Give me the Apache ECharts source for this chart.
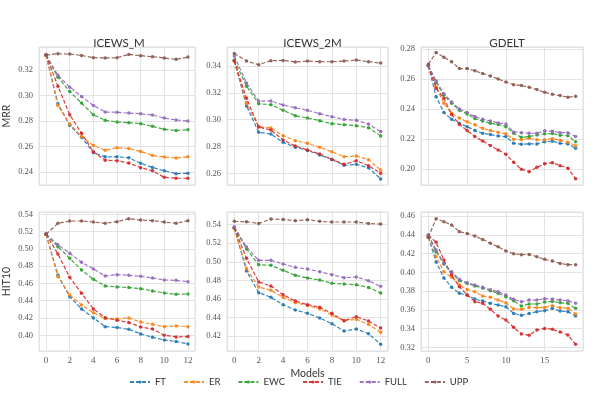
<!DOCTYPE html>
<html>
<head>
<meta charset="utf-8">
<script src="https://cdn.jsdelivr.net/npm/echarts@6/dist/echarts.min.js"></script>
<style>html,body{margin:0;padding:0;background:#fff}#c{width:598px;height:394px}</style>
</head>
<body>
<div id="c"></div>
<script>
// ---------- data ----------
const methods = ['FT', 'ER', 'EWC', 'TIE', 'FULL', 'UPP'];
const datasets = ['ICEWS_M', 'ICEWS_2M', 'GDELT'];
const metrics = ['MRR', 'HIT10'];
const stepsIcews = [0, 1, 2, 3, 4, 5, 6, 7, 8, 9, 10, 11, 12];
const stepsGdelt = [0, 1, 2, 3, 4, 5, 6, 7, 8, 9, 10, 11, 12, 13, 14, 15, 16, 17, 18, 19];

// MRR - ICEWS_M
const mrrIcewsM_FT   = [0.3317, 0.2935, 0.2766, 0.2673, 0.2553, 0.2519, 0.2519, 0.2512, 0.2468, 0.2436, 0.2410, 0.2387, 0.2390];
const mrrIcewsM_ER   = [0.3317, 0.2922, 0.2777, 0.2678, 0.2608, 0.2571, 0.2590, 0.2584, 0.2561, 0.2530, 0.2517, 0.2509, 0.2519];
const mrrIcewsM_EWC  = [0.3317, 0.3143, 0.3031, 0.2940, 0.2849, 0.2805, 0.2792, 0.2787, 0.2779, 0.2758, 0.2735, 0.2725, 0.2732];
const mrrIcewsM_TIE  = [0.3317, 0.3073, 0.2849, 0.2704, 0.2558, 0.2493, 0.2488, 0.2470, 0.2434, 0.2410, 0.2358, 0.2351, 0.2351];
const mrrIcewsM_FULL = [0.3317, 0.3158, 0.3065, 0.2992, 0.2922, 0.2870, 0.2868, 0.2862, 0.2857, 0.2847, 0.2823, 0.2808, 0.2800];
const mrrIcewsM_UPP  = [0.3317, 0.3327, 0.3325, 0.3314, 0.3296, 0.3294, 0.3296, 0.3322, 0.3312, 0.3304, 0.3294, 0.3283, 0.3301];

// MRR - ICEWS_2M
const mrrIcews2M_FT   = [0.3440, 0.3102, 0.2906, 0.2893, 0.2831, 0.2794, 0.2771, 0.2737, 0.2704, 0.2660, 0.2667, 0.2642, 0.2558];
const mrrIcews2M_ER   = [0.3440, 0.3122, 0.2948, 0.2938, 0.2881, 0.2843, 0.2824, 0.2794, 0.2761, 0.2724, 0.2729, 0.2702, 0.2625];
const mrrIcews2M_EWC  = [0.3445, 0.3250, 0.3119, 0.3112, 0.3070, 0.3030, 0.3012, 0.2993, 0.2970, 0.2963, 0.2955, 0.2940, 0.2878];
const mrrIcews2M_TIE  = [0.3437, 0.3159, 0.2945, 0.2923, 0.2848, 0.2804, 0.2774, 0.2744, 0.2704, 0.2667, 0.2694, 0.2657, 0.2600];
const mrrIcews2M_FULL = [0.3475, 0.3273, 0.3139, 0.3139, 0.3109, 0.3089, 0.3070, 0.3045, 0.3022, 0.3002, 0.2995, 0.2968, 0.2911];
const mrrIcews2M_UPP  = [0.3494, 0.3437, 0.3410, 0.3440, 0.3442, 0.3430, 0.3437, 0.3432, 0.3432, 0.3437, 0.3445, 0.3432, 0.3422];

// MRR - GDELT
const mrrGdelt_FT   = [0.2690, 0.2484, 0.2378, 0.2333, 0.2307, 0.2284, 0.2258, 0.2240, 0.2231, 0.2222, 0.2218, 0.2173, 0.2167, 0.2169, 0.2169, 0.2184, 0.2187, 0.2173, 0.2169, 0.2140];
const mrrGdelt_ER   = [0.2690, 0.2547, 0.2440, 0.2373, 0.2342, 0.2316, 0.2296, 0.2273, 0.2258, 0.2247, 0.2236, 0.2200, 0.2196, 0.2207, 0.2196, 0.2196, 0.2204, 0.2193, 0.2180, 0.2156];
const mrrGdelt_EWC  = [0.2690, 0.2578, 0.2493, 0.2440, 0.2393, 0.2369, 0.2338, 0.2322, 0.2307, 0.2298, 0.2284, 0.2240, 0.2213, 0.2218, 0.2229, 0.2236, 0.2238, 0.2227, 0.2224, 0.2184];
const mrrGdelt_TIE  = [0.2690, 0.2540, 0.2473, 0.2365, 0.2300, 0.2258, 0.2218, 0.2189, 0.2158, 0.2129, 0.2100, 0.2047, 0.2000, 0.1984, 0.2013, 0.2036, 0.2044, 0.2024, 0.2007, 0.1936];
const mrrGdelt_FULL = [0.2690, 0.2589, 0.2504, 0.2449, 0.2402, 0.2378, 0.2351, 0.2333, 0.2322, 0.2309, 0.2302, 0.2249, 0.2244, 0.2240, 0.2240, 0.2256, 0.2253, 0.2244, 0.2244, 0.2218];
const mrrGdelt_UPP  = [0.2700, 0.2778, 0.2747, 0.2716, 0.2671, 0.2671, 0.2656, 0.2638, 0.2622, 0.2602, 0.2582, 0.2564, 0.2558, 0.2547, 0.2531, 0.2513, 0.2500, 0.2491, 0.2480, 0.2487];

// HIT10 - ICEWS_M
const hitIcewsM_FT   = [0.5169, 0.4698, 0.4447, 0.4305, 0.4201, 0.4100, 0.4089, 0.4070, 0.4016, 0.3977, 0.3946, 0.3927, 0.3900];
const hitIcewsM_ER   = [0.5169, 0.4679, 0.4467, 0.4351, 0.4262, 0.4193, 0.4189, 0.4201, 0.4154, 0.4127, 0.4100, 0.4108, 0.4100];
const hitIcewsM_EWC  = [0.5169, 0.5026, 0.4891, 0.4756, 0.4648, 0.4571, 0.4559, 0.4552, 0.4540, 0.4513, 0.4490, 0.4474, 0.4478];
const hitIcewsM_TIE  = [0.5169, 0.4941, 0.4671, 0.4486, 0.4305, 0.4204, 0.4174, 0.4147, 0.4096, 0.4073, 0.4000, 0.3981, 0.3985];
const hitIcewsM_FULL = [0.5169, 0.5049, 0.4949, 0.4845, 0.4768, 0.4687, 0.4702, 0.4694, 0.4683, 0.4663, 0.4640, 0.4636, 0.4621];
const hitIcewsM_UPP  = [0.5169, 0.5296, 0.5323, 0.5323, 0.5311, 0.5296, 0.5315, 0.5350, 0.5334, 0.5327, 0.5311, 0.5296, 0.5327];

// HIT10 - ICEWS_2M
const hitIcews2M_FT   = [0.5368, 0.4901, 0.4667, 0.4617, 0.4538, 0.4480, 0.4444, 0.4394, 0.4333, 0.4254, 0.4275, 0.4225, 0.4110];
const hitIcews2M_ER   = [0.5357, 0.4929, 0.4728, 0.4692, 0.4617, 0.4559, 0.4530, 0.4491, 0.4426, 0.4365, 0.4380, 0.4326, 0.4239];
const hitIcews2M_EWC  = [0.5368, 0.5138, 0.4969, 0.4962, 0.4908, 0.4854, 0.4825, 0.4803, 0.4768, 0.4760, 0.4753, 0.4724, 0.4663];
const hitIcews2M_TIE  = [0.5368, 0.5037, 0.4782, 0.4739, 0.4645, 0.4577, 0.4538, 0.4509, 0.4444, 0.4365, 0.4408, 0.4362, 0.4286];
const hitIcews2M_FULL = [0.5378, 0.5159, 0.5016, 0.5016, 0.4976, 0.4940, 0.4922, 0.4893, 0.4861, 0.4829, 0.4836, 0.4796, 0.4735];
const hitIcews2M_UPP  = [0.5436, 0.5432, 0.5414, 0.5461, 0.5457, 0.5443, 0.5454, 0.5436, 0.5429, 0.5429, 0.5429, 0.5414, 0.5407];

// HIT10 - GDELT
const hitGdelt_FT   = [0.4373, 0.4110, 0.3940, 0.3840, 0.3776, 0.3758, 0.3715, 0.3694, 0.3669, 0.3651, 0.3633, 0.3562, 0.3541, 0.3562, 0.3580, 0.3591, 0.3616, 0.3587, 0.3580, 0.3534];
const hitGdelt_ER   = [0.4373, 0.4166, 0.4007, 0.3946, 0.3864, 0.3818, 0.3793, 0.3747, 0.3733, 0.3704, 0.3676, 0.3609, 0.3605, 0.3626, 0.3623, 0.3626, 0.3644, 0.3623, 0.3616, 0.3555];
const hitGdelt_EWC  = [0.4390, 0.4220, 0.4088, 0.3996, 0.3911, 0.3882, 0.3854, 0.3832, 0.3804, 0.3776, 0.3740, 0.3697, 0.3641, 0.3662, 0.3662, 0.3683, 0.3690, 0.3676, 0.3669, 0.3616];
const hitGdelt_TIE  = [0.4397, 0.4320, 0.4130, 0.3971, 0.3847, 0.3758, 0.3687, 0.3669, 0.3605, 0.3534, 0.3491, 0.3413, 0.3342, 0.3328, 0.3385, 0.3402, 0.3392, 0.3363, 0.3331, 0.3232];
const hitGdelt_FULL = [0.4397, 0.4238, 0.4095, 0.4007, 0.3925, 0.3889, 0.3864, 0.3840, 0.3815, 0.3793, 0.3758, 0.3712, 0.3687, 0.3704, 0.3704, 0.3719, 0.3715, 0.3704, 0.3697, 0.3669];
const hitGdelt_UPP  = [0.4373, 0.4572, 0.4540, 0.4504, 0.4433, 0.4415, 0.4387, 0.4351, 0.4309, 0.4273, 0.4227, 0.4198, 0.4188, 0.4191, 0.4166, 0.4138, 0.4120, 0.4095, 0.4081, 0.4081];

// ---------- layout / style ----------
const colors = ['#1f77b4', '#ff7f0e', '#2ca02c', '#d62728', '#9467bd', '#8c564b'];
const panels = [
  { title: 'ICEWS_M',  steps: stepsIcews, series: [mrrIcewsM_FT, mrrIcewsM_ER, mrrIcewsM_EWC, mrrIcewsM_TIE, mrrIcewsM_FULL, mrrIcewsM_UPP], ymin: 0.2298, ymax: 0.3380, split: 5, xmin: -0.6, xmax: 12.6, xsplit: 6, row: 0, col: 0, yname: 'MRR' },
  { title: 'ICEWS_2M', steps: stepsIcews, series: [mrrIcews2M_FT, mrrIcews2M_ER, mrrIcews2M_EWC, mrrIcews2M_TIE, mrrIcews2M_FULL, mrrIcews2M_UPP], ymin: 0.2513, ymax: 0.3542, split: 5, xmin: -0.6, xmax: 12.6, xsplit: 6, row: 0, col: 1 },
  { title: 'GDELT',    steps: stepsGdelt, series: [mrrGdelt_FT, mrrGdelt_ER, mrrGdelt_EWC, mrrGdelt_TIE, mrrGdelt_FULL, mrrGdelt_UPP], ymin: 0.1895, ymax: 0.2815, split: 5, xmin: -0.95, xmax: 19.95, xsplit: 4, row: 0, col: 2 },
  { title: '', steps: stepsIcews, series: [hitIcewsM_FT, hitIcewsM_ER, hitIcewsM_EWC, hitIcewsM_TIE, hitIcewsM_FULL, hitIcewsM_UPP], ymin: 0.3818, ymax: 0.5427, split: 8, xmin: -0.6, xmax: 12.6, xsplit: 6, row: 1, col: 0, yname: 'HIT10' },
  { title: '', steps: stepsIcews, series: [hitIcews2M_FT, hitIcews2M_ER, hitIcews2M_EWC, hitIcews2M_TIE, hitIcews2M_FULL, hitIcews2M_UPP], ymin: 0.4038, ymax: 0.5537, split: 7, xmin: -0.6, xmax: 12.6, xsplit: 6, row: 1, col: 1, xname: 'Models' },
  { title: '', steps: stepsGdelt, series: [hitGdelt_FT, hitGdelt_ER, hitGdelt_EWC, hitGdelt_TIE, hitGdelt_FULL, hitGdelt_UPP], ymin: 0.3161, ymax: 0.4643, split: 7, xmin: -0.95, xmax: 19.95, xsplit: 4, row: 1, col: 2 }
];
const colLeft = [33, 227, 421];
const colWidth = [162, 161, 162];
const rowTop = [47, 212];
const rowHeight = [138, 139];
const tickFont = '"Liberation Serif", "DejaVu Serif", serif';

const grids = [], xAxes = [], yAxes = [], series = [], titles = [];
panels.forEach((p, i) => {
  grids.push({ left: colLeft[p.col], top: rowTop[p.row], width: colWidth[p.col], height: rowHeight[p.row],
    show: true, borderColor: '#dcdcdc', borderWidth: 1, backgroundColor: 'transparent' });
  xAxes.push({
    type: 'value', gridIndex: i, min: p.xmin, max: p.xmax, splitNumber: p.xsplit,
    axisLine: { show: false }, axisTick: { show: false },
    splitLine: { show: true, lineStyle: { color: '#e3e3e3', width: 1 } },
    axisLabel: {
      show: p.row === 1, margin: 5, color: '#555', fontFamily: tickFont, fontSize: 9,
      formatter: v => (Math.abs(v - Math.round(v)) < 1e-6 ? String(Math.round(v)) : '')
    },
    name: p.xname || '', nameLocation: 'middle', nameGap: 17,
    nameTextStyle: { fontFamily: 'Lato', fontSize: 10.5, color: '#333' }
  });
  yAxes.push({
    type: 'value', gridIndex: i, min: p.ymin, max: p.ymax, splitNumber: p.split,
    axisLine: { show: false }, axisTick: { show: false },
    splitLine: { show: true, lineStyle: { color: '#e3e3e3', width: 1 } },
    axisLabel: {
      margin: 6, color: '#555', fontFamily: tickFont, fontSize: 8.5,
      formatter: v => (Math.abs(v * 50 - Math.round(v * 50)) < 1e-6 ? v.toFixed(2) : '')
    },
    name: p.yname || '', nameLocation: 'middle', nameGap: 27, nameRotate: 90,
    nameTextStyle: { fontFamily: 'Lato', fontSize: 10.5, color: '#333' }
  });
  if (p.title) {
    titles.push({ text: p.title, left: colLeft[p.col] + colWidth[p.col] / 2, top: 32, textAlign: 'center',
      textStyle: { fontFamily: 'Lato', fontSize: 11.5, fontWeight: 'normal', color: '#333' } });
  }
  p.series.forEach((vals, k) => {
    series.push({
      type: 'line', name: methods[k], xAxisIndex: i, yAxisIndex: i,
      data: p.steps.map((s, j) => [s, vals[j]]),
      symbol: 'circle', symbolSize: 3.5, showSymbol: true,
      lineStyle: { type: [4, 2], width: 1.2, color: colors[k], opacity: 0.9 },
      itemStyle: { color: colors[k], opacity: 0.9 },
      emphasis: { disabled: true }, animation: false, z: 2 + k
    });
  });
});

const chart = echarts.init(document.getElementById('c'), null, { renderer: 'canvas' });
chart.setOption({
  animation: false,
  backgroundColor: '#fff',
  title: titles,
  grid: grids,
  xAxis: xAxes,
  yAxis: yAxes,
  legend: {
    data: methods, left: 124, top: 372, itemWidth: 20, itemHeight: 4, itemGap: 17,
    textStyle: { fontFamily: 'Lato', fontSize: 9.5, color: '#333' }
  },
  series: series
});
</script>
</body>
</html>
